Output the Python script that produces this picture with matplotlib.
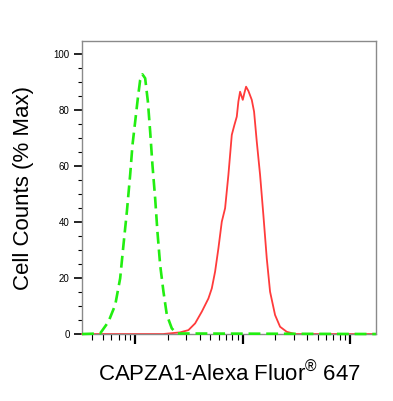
import matplotlib
matplotlib.use("Agg")
import matplotlib.pyplot as plt
from matplotlib.ticker import MultipleLocator, LogLocator, NullFormatter

plt.rcParams['font.family'] = ['Liberation Sans', 'DejaVu Sans']
plt.rcParams['mathtext.fontset'] = 'custom'
plt.rcParams['mathtext.rm'] = 'Liberation Sans'

# Isotype control (green dashed): fluorescence intensity vs % max
ctrl_x = [32, 47.2, 56.4, 65.2, 72.5, 77.8, 83.7, 89.8, 94.4, 100, 105.9, 111.3, 116.9,
          123.9, 131.3, 137.9, 144.8, 153.5, 161.2, 170.9, 183.4, 197.2, 219.4, 244.3, 17400]
ctrl_y = [0, 0.2, 4.4, 10.4, 19.9, 31.8, 43.7, 56.8, 67.5, 75.8, 84.2, 90.7, 92.7,
          91.3, 83, 72.3, 60.4, 48.4, 36.5, 24.6, 15.1, 6.8, 2, 0.2, 0]

# CAPZA1 stained (red solid)
capza_x = [32, 182, 262.2, 313.2, 361.5, 417.4, 480.8, 517.0, 554.9, 595.6, 640.4, 687.4,
           737.8, 793.5, 838.9, 883.1, 914.0, 948.0, 1004.4, 1039.2, 1078, 1132.4, 1217.8,
           1279.4, 1355.5, 1455.4, 1561.7, 1679.5, 1802.9, 2006.4, 2233.6, 2577.5, 3078, 17400]
capza_y = [0, 0, 0.6, 1.4, 3.8, 8, 12.7, 16.3, 22.3, 30.6, 40.1, 44.9,
           56.8, 71.1, 74.6, 77.6, 83, 86.5, 83.6, 86, 88.3, 86.8, 83.6,
           79.4, 68.7, 56.8, 42.5, 27, 15.1, 6.8, 2.6, 0.8, 0, 0]

y_ticks = [0, 20, 40, 60, 80, 100]

fig = plt.figure(figsize=(3.93, 4.01), dpi=100)
ax = fig.add_axes([0.2087, 0.167, 0.748, 0.7307])

ax.plot(capza_x, capza_y, color='#ff3b3b', lw=1.3, clip_on=False, zorder=2)
ax.plot(ctrl_x, ctrl_y, color='#22ee11', lw=1.9, ls=(0, (4.5, 2.2)), clip_on=False, zorder=3)

ax.set_xscale('log')
ax.set_xlim(32, 17460)
ax.set_ylim(0, 104.6)

ax.xaxis.set_major_locator(LogLocator(base=10, numticks=10))
ax.xaxis.set_minor_locator(LogLocator(base=10, subs=range(2, 10), numticks=20))
ax.xaxis.set_major_formatter(NullFormatter())
ax.xaxis.set_minor_formatter(NullFormatter())

ax.set_yticks(y_ticks)
ax.yaxis.set_minor_locator(MultipleLocator(5))
ax.tick_params(axis='y', which='major', length=6, width=1.2, labelsize=7, pad=3, direction='out')
ax.tick_params(axis='y', which='minor', length=3, width=0.8, direction='out')
ax.tick_params(axis='x', which='major', length=7, width=1.6, direction='out')
ax.tick_params(axis='x', which='minor', length=4, width=0.8, direction='out')

for s in ax.spines.values():
    s.set_color('#8a8a8a')
    s.set_linewidth(1.0)

ax.set_ylabel('Cell Counts (% Max)', fontsize=16, labelpad=14)
ax.set_xlabel('CAPZA1-Alexa Fluor$^{®}$ 647', fontsize=16, labelpad=9)

fig.savefig('out.png', dpi=100)
